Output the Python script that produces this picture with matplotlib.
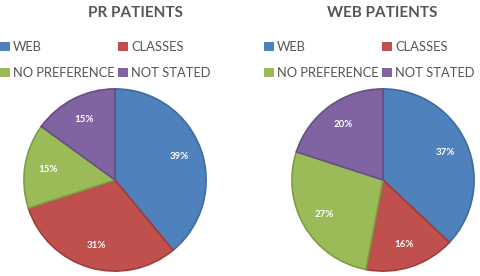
import matplotlib
matplotlib.use("Agg")
import matplotlib.pyplot as plt
from matplotlib.patches import Patch

# データ
categories = ["WEB", "CLASSES", "NO PREFERENCE", "NOT STATED"]
pr_values = [39, 31, 15, 15]
web_values = [37, 16, 27, 20]
titles = ["PR PATIENTS", "WEB PATIENTS"]

COLORS = ["#4F81BD", "#C0504D", "#9BBB59", "#8064A2"]
EDGES = ["#3E6A9E", "#9E3D3A", "#7F9C45", "#664F85"]
TEXT_GREY = "#555555"

plt.rcParams["font.family"] = ["Lato", "DejaVu Sans"]

fig = plt.figure(figsize=(4.81, 2.76), dpi=100, facecolor="white")

W, H = 481, 276
R = 92
# (pie center x, title x, legend left x)
layout = [(115, 135, 0), (383, 382, 264)]

for values, title, (cx, tx, lx) in zip([pr_values, web_values], titles, layout):
    cy = 180
    ax = fig.add_axes([(cx - R) / W, (H - cy - R) / H, 2 * R / W, 2 * R / H])
    wedges, _, autotexts = ax.pie(
        values, colors=COLORS, startangle=90, counterclock=False,
        autopct="%d%%", pctdistance=0.75,
        wedgeprops=dict(edgecolor="none"),
        textprops=dict(color="white", fontsize=7, fontweight="bold"),
    )
    for w, ec in zip(wedges, EDGES):
        w.set_edgecolor(ec)
        w.set_linewidth(1.2)
    ax.set_xlim(-1.01, 1.01)
    ax.set_ylim(-1.01, 1.01)

    fig.text(tx / W, 1 - 13 / H, title, ha="center", va="center",
             fontsize=11, fontweight="bold", color=TEXT_GREY)

    handles = [Patch(facecolor=c, edgecolor="none") for c in COLORS]
    order = [0, 2, 1, 3]
    fig.legend([handles[i] for i in order], [categories[i] for i in order],
               ncol=2, loc="upper left",
               bbox_to_anchor=(lx / W, 1 - 41 / H),
               frameon=False, fontsize=9.3, labelcolor=TEXT_GREY,
               handlelength=0.75, handleheight=0.75, handletextpad=0.25,
               columnspacing=0.3, labelspacing=1.1,
               borderpad=0, borderaxespad=0)

fig.savefig("out.png", dpi=100)
